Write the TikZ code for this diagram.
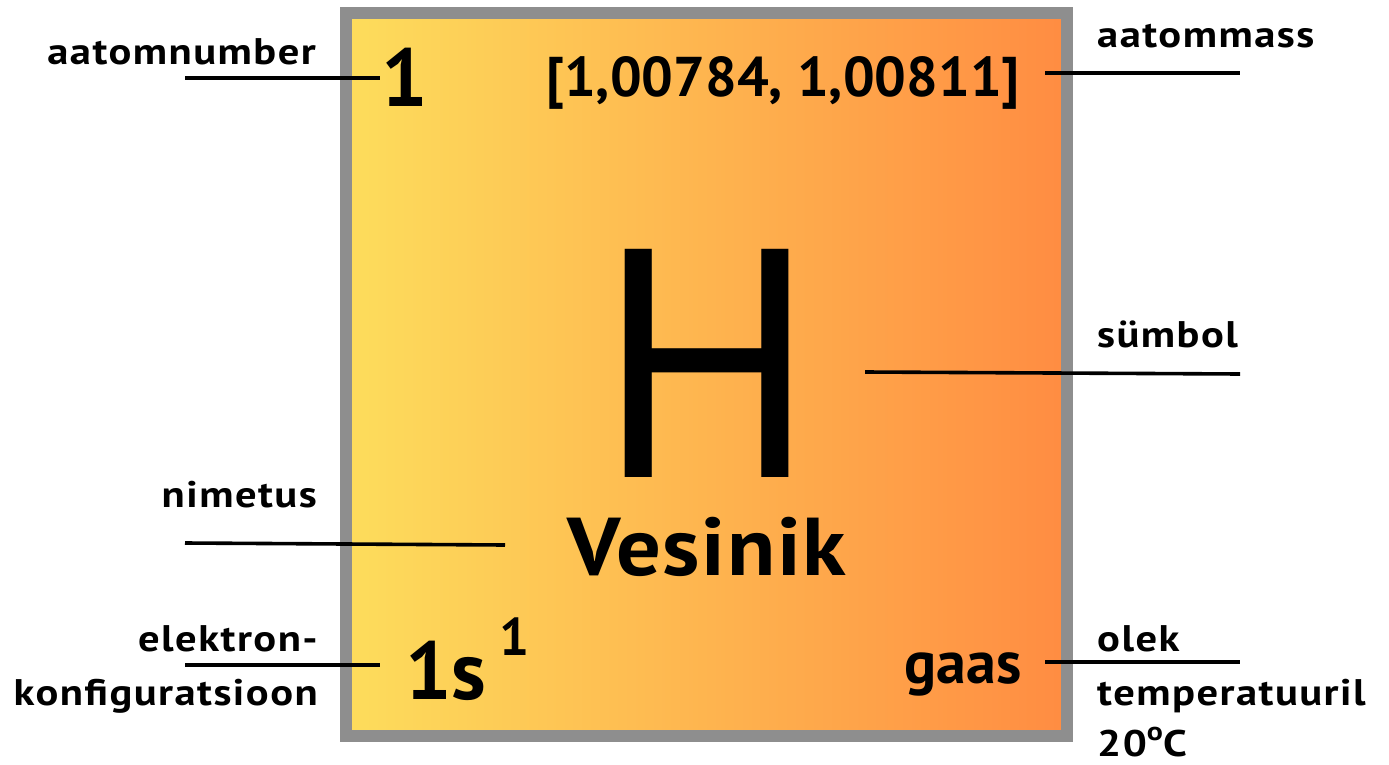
\documentclass[tikz,border=0pt]{standalone}
\usepackage{fontspec}
\setmainfont{PT Sans}
\newfontfamily\capfont[FakeStretch=1.15, LetterSpace=4]{PT Sans}
\newfontfamily\namefont[FakeStretch=1.08, LetterSpace=2]{PT Sans}
\usepackage{xcolor}
\usetikzlibrary{positioning, calc}

\definecolor{cellYellow}{RGB}{253,221,92}
\definecolor{cellOrange}{RGB}{255,140,66}
\definecolor{cellGray}{RGB}{142,142,142}

\begin{document}
\begin{tikzpicture}[
  x=1pt, y=-1pt,
  labeltext/.style={
    inner sep=0pt, font=\capfont\fontsize{37}{40}\selectfont\bfseries
  },
  valuetext/.style={
    inner sep=0pt, font=\fontsize{56}{60}\selectfont\bfseries
  },
  bigtext/.style={
    inner sep=0pt, font=\fontsize{82}{86}\selectfont\bfseries
  },
  leader/.style={draw=black, line width=3.6pt}
]
\useasboundingbox (0,0) rectangle (1389,765);
% element cell
\shade[left color=cellYellow, right color=cellOrange]
  (346,13) rectangle (1067,736);
\draw[cellGray, line width=12pt] (346,13) rectangle (1067,736);

% values inside the cell
\node[bigtext, anchor=base] (num) at (405,107) {1};
\node[valuetext, anchor=base] (mass) at (783,97) {[1,00784, 1,00811]};
\node[inner sep=0pt, anchor=base, font=\fontsize{326}{330}\selectfont] (sym) at (707,477) {H};
\node[bigtext, anchor=base, font=\namefont\fontsize{82}{86}\selectfont\bfseries]
  (name) at (707,575) {Vesinik};
\node[bigtext, anchor=base west] (conf) at (405,699) {1s};
\node[inner sep=0pt, anchor=base west, font=\fontsize{53}{56}\selectfont\bfseries]
  (confexp) at (499,655) {1};
\node[valuetext, anchor=base east, font=\fontsize{60}{64}\selectfont\bfseries]
  (state) at (1022,683) {gaas};

% captions
\node[labeltext, anchor=base east] (numlbl) at (316,65) {aatomnumber};
\node[labeltext, anchor=base west] (masslbl) at (1097,48) {aatommass};
\node[labeltext, anchor=base west] (symlbl) at (1097,347) {sümbol};
\node[labeltext, anchor=base east] (namelbl) at (317,507) {nimetus};
\node[labeltext, anchor=base east] (conflbl) at (318,651) {elektron-};
\node[labeltext, anchor=base east] (conflbl2) at (318,705) {konfiguratsioon};
\node[labeltext, anchor=base west] (statelbl) at (1097,651) {olek};
\node[labeltext, anchor=base west] (statelbl2) at (1097,705) {temperatuuril};
\node[labeltext, anchor=base west] (statelbl3) at (1097,756)
  {20\raisebox{0.42em}{\fontsize{26}{26}\selectfont o}C};

% leader lines
\coordinate (numA) at (185,78);   \coordinate (numB) at (380,78);
\coordinate (massA) at (1045,73); \coordinate (massB) at (1240,73);
\coordinate (symA) at (865,372);  \coordinate (symB) at (1240,374);
\coordinate (nameA) at (185,543); \coordinate (nameB) at (505,545);
\coordinate (confA) at (185,665); \coordinate (confB) at (380,665);
\coordinate (stateA) at (1045,662); \coordinate (stateB) at (1240,662);
\foreach \a/\b in {numA/numB, massA/massB, symA/symB, nameA/nameB, confA/confB, stateA/stateB}
  \draw[leader] (\a) -- (\b);
\end{tikzpicture}
\end{document}
